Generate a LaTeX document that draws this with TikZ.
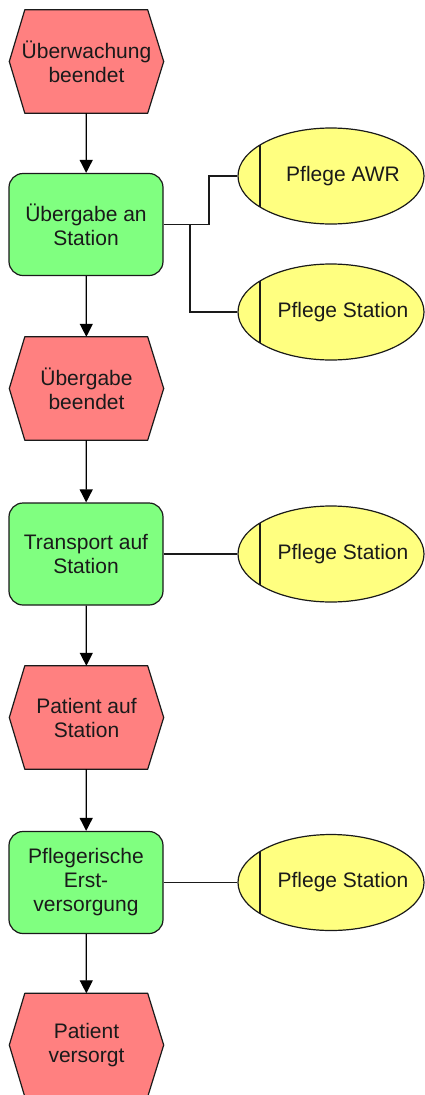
\documentclass[tikz,border=0pt]{standalone}
\usepackage{fontspec}
\setmainfont{Liberation Sans}
\usetikzlibrary{arrows.meta,shapes.geometric,backgrounds}

\definecolor{eventred}{HTML}{FF8080}
\definecolor{funcgreen}{HTML}{80FF80}
\definecolor{roleyellow}{HTML}{FFFF80}
\definecolor{edge}{HTML}{1A1A1A}

\begin{document}
\begin{tikzpicture}[x=1pt,y=-1pt,
  txt/.style={font=\fontsize{21}{24}\selectfont, text=edge, align=center},
  event/.style={txt, rectangle, minimum width=154pt, minimum height=103pt, inner sep=0pt},
  func/.style={txt, rectangle, rounded corners=14pt, draw=edge, line width=1.2pt,
    fill=funcgreen, minimum width=154pt, minimum height=102pt, inner sep=0pt},
  role/.style={ellipse, draw=edge, line width=1.2pt, fill=roleyellow,
    minimum width=186pt, minimum height=96pt, inner sep=0pt},
  rolelabel/.style={txt, xshift=12pt},
  flow/.style={-{Triangle[length=13pt,width=13pt]}, line width=1.2pt, draw=black},
  link/.style={line width=1.2pt, draw=edge}]

\useasboundingbox (0,0) rectangle (425,1095);

% events (hexagon outlines are drawn behind them below)
\node[event] (e1) at (86.5,61.5)  {Überwachung\\beendet};
\node[event] (e2) at (86.5,388.5) {Übergabe\\beendet};
\node[event] (e3) at (86.5,717.5) {Patient auf\\Station};
\node[event] (e4) at (86.5,1045)  {Patient\\versorgt};

% functions
\node[func] (f1) at (86,224.5) {Übergabe an\\Station};
\node[func] (f2) at (86,554)   {Transport auf\\Station};
\node[func] (f3) at (86,882.5) {Pflegerische\\Erst-\\versorgung};

% organisational units
\node[role, label={[rolelabel]center:Pflege AWR}]     (r1) at (331,176)   {};
\node[role, label={[rolelabel]center:Pflege Station}] (r2) at (331,312)   {};
\node[role, label={[rolelabel]center:Pflege Station}] (r3) at (331,554)   {};
\node[role, label={[rolelabel]center:Pflege Station}] (r4) at (331,882.5) {};

% vertical bar inside each unit ellipse
\foreach \r in {r1,r2,r3,r4}
  \draw[link] ([shift={(-71,-31)}]\r.center) -- ([shift={(-71,31)}]\r.center);

% hexagon shapes of the events
\begin{scope}[on background layer]
\foreach \e in {e1,e2,e3,e4}
  \filldraw[fill=eventred, draw=edge, line width=1.2pt, line join=round]
    (\e.west) -- ([xshift=15.5pt]\e.north west) -- ([xshift=-16pt]\e.north east)
    -- (\e.east) -- ([xshift=-16pt]\e.south east) -- ([xshift=15.5pt]\e.south west) -- cycle;
\end{scope}

% control flow
\draw[flow] (e1) -- (f1);
\draw[flow] (f1) -- (e2);
\draw[flow] (e2) -- (f2);
\draw[flow] (f2) -- (e3);
\draw[flow] (e3) -- (f3);
\draw[flow] (f3) -- (e4);

% unit assignments
\coordinate (j1) at (209,224.5);
\coordinate (j2) at (190,224.5);
\draw[link] (f1.east) -- (j1) |- (r1.west);
\draw[link] (j2) |- (r2.west);
\draw[link] (f2.east) -- (r3.west);
\draw[link] (f3.east) -- (r4.west);
\end{tikzpicture}
\end{document}
